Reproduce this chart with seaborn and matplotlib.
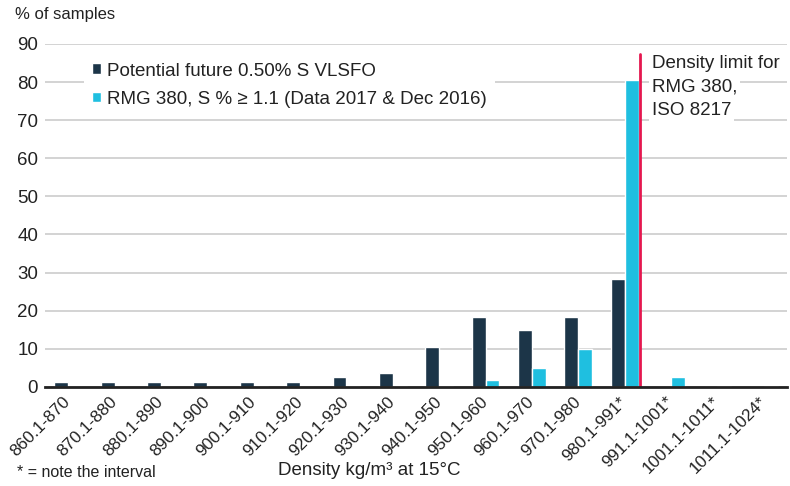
import numpy as np
import pandas as pd
import matplotlib
matplotlib.use('Agg')
import matplotlib.pyplot as plt
import seaborn as sns

# DATA
intervals = ['860.1-870', '870.1-880', '880.1-890', '890.1-900', '900.1-910',
             '910.1-920', '920.1-930', '930.1-940', '940.1-950', '950.1-960',
             '960.1-970', '970.1-980', '980.1-991*', '991.1-1001*',
             '1001.1-1011*', '1011.1-1024*']
vlsfo = [1.2, 1.2, 1.2, 1.2, 1.2, 1.2, 2.6, 3.6, 10.4, 18.3, 15.0, 18.3, 28.3, 0, 0, 0]
rmg380 = [0, 0, 0, 0, 0.3, 0, 0.3, 0.3, 0.3, 1.8, 5.0, 9.8, 80.5, 2.5, 0.3, 0.3]
series_names = ['Potential future 0.50% S VLSFO',
                'RMG 380, S % \u2265 1.1 (Data 2017 & Dec 2016)']
yticks = [0, 10, 20, 30, 40, 50, 60, 70, 80, 90]
limit_x = 12.33      # density limit marker position (between bars)
limit_top = 87.4
limit_lines = ['Density limit for', 'RMG 380,', 'ISO 8217']

dark = '#1c3548'
cyan = '#1fbfe0'
red = '#e5174f'
txt = '#222222'

df = pd.DataFrame({
    'interval': intervals * 2,
    'pct': vlsfo + rmg380,
    'series': [series_names[0]] * len(intervals) + [series_names[1]] * len(intervals),
})

sns.set_style('white')
plt.rcParams['font.family'] = ['Liberation Sans', 'DejaVu Sans']

fig = plt.figure(figsize=(7.9, 4.86), dpi=100)
ax = fig.add_axes([45 / 790, 1 - 386.8 / 486, 742 / 790, (386.8 - 44) / 486])

sns.barplot(data=df, x='interval', y='pct', hue='series', order=intervals,
            palette=[dark, cyan], width=0.6, saturation=1, ax=ax, zorder=3)

ax.set_xlim(-0.5, len(intervals) - 0.5)
ax.set_ylim(0, 90)
ax.set_yticks(yticks)
ax.yaxis.grid(True, color='#c8c8c8', linewidth=1.1, zorder=0)
ax.set_axisbelow(True)

for s in ['left', 'right', 'top']:
    ax.spines[s].set_visible(False)
ax.spines['bottom'].set_color(txt)
ax.spines['bottom'].set_linewidth(2)
ax.spines['bottom'].set_zorder(5)

# ticks at category boundaries, labels at the centres
ax.set_xticks(np.arange(-0.5, len(intervals), 1), minor=True)
ax.tick_params(axis='x', which='minor', length=6, width=2, color=txt, direction='out')
ax.tick_params(axis='x', which='major', length=0, pad=9)
ax.tick_params(axis='y', length=0, pad=5, labelsize=13.5, labelcolor=txt)
ax.set_xticks(range(len(intervals)))
ax.set_xticklabels(intervals, rotation=45, ha='right', va='center',
                   rotation_mode='anchor', fontsize=12.3, color=txt)
ax.set_xlabel('')
ax.set_ylabel('')

# density limit line + label
ax.plot([limit_x, limit_x], [0, limit_top], color=red, linewidth=2, zorder=4)
for i, line in enumerate(limit_lines):
    ax.text(12.59, 84.9 - i * 6.12, line, fontsize=13.5, color=txt, va='center',
            ha='left', zorder=6,
            bbox=dict(facecolor='white', edgecolor='none', pad=2))

handles, labels = ax.get_legend_handles_labels()
leg = ax.legend(handles, labels, loc='upper left',
                bbox_to_anchor=(84 / 790, 1 - 55 / 486), bbox_transform=fig.transFigure,
                frameon=True, fontsize=13.5, handlelength=0.5, handleheight=0.5,
                handletextpad=0.35, labelspacing=0.6, borderpad=0.4, borderaxespad=0)
leg.get_frame().set_facecolor('white')
leg.get_frame().set_edgecolor('none')
leg.get_frame().set_alpha(1)
for t in leg.get_texts():
    t.set_color(txt)

fig.text(15 / 790, 1 - 15 / 486, '% of samples', fontsize=12, color=txt,
         ha='left', va='center')
fig.text(17 / 790, 1 - 472 / 486, '* = note the interval', fontsize=11.5, color=txt,
         ha='left', va='center')
fig.text(278 / 790, 1 - 470 / 486, 'Density kg/m\u00b3 at 15\u00b0C', fontsize=13.5,
         color=txt, ha='left', va='center')

fig.savefig('out.png', dpi=100)
